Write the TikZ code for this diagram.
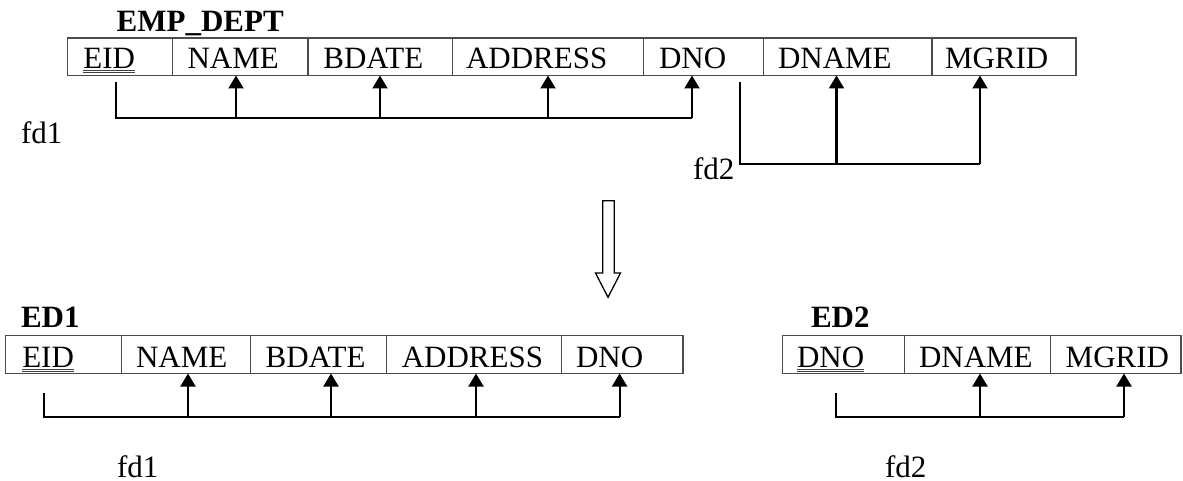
\documentclass[tikz,border=0pt]{standalone}
\usepackage{fontspec}
\setmainfont{Liberation Serif}
\usetikzlibrary{arrows.meta}
\begin{document}
\begin{tikzpicture}[x=1pt,y=-1pt,
  cell/.style={draw=black!70,line width=1.1pt,inner sep=0pt,outer sep=0pt,anchor=north west},
  txt/.style={inner sep=0pt,outer sep=0pt,anchor=base west,font=\fontsize{31}{36}\selectfont},
  ttl/.style={txt,font=\fontsize{31}{36}\selectfont\bfseries},
  bus/.style={line width=2.2pt,line cap=butt},
  arr/.style={line width=2.2pt,-{Triangle[width=15pt,length=13pt]}},
  dul/.style={draw=black!75,line width=0.9pt}]
\useasboundingbox (0,0) rectangle (1183,481);

% ---------- EMP_DEPT ----------
\node[ttl] (tEMP) at (116.7,31.7) {EMP\_DEPT};
\foreach \n/\a/\b in {c1/67.4/172.2,c2/172.2/308,c3/308/452.4,c4/452.4/643.5,c5/643.5/763.8,c6/763.8/932,c7/932/1076}{
  \pgfmathsetmacro\w{\b-\a}
  \node[cell,minimum width=\w pt,minimum height=37.5pt] (\n) at (\a,38) {};
}
\node[txt] (x1) at (83.4,68.5) {EID};
\node[txt] (x2) at (187.5,68.5) {NAME};
\node[txt] (x3) at (323.4,68.5) {BDATE};
\node[txt] (x4) at (466,68.5) {ADDRESS};
\node[txt] (x5) at (659,68.5) {DNO};
\node[txt] (x6) at (778,68.5) {DNAME};
\node[txt] (x7) at (945,68.5) {MGRID};
\draw[dul] ([yshift=-2pt]x1.base west) -- ([yshift=-2pt]x1.base east);
\draw[dul] ([yshift=-4.4pt]x1.base west) -- ([yshift=-4.4pt]x1.base east);

% fd1 (top)
\coordinate (p1s) at (116,82);
\coordinate (p1b) at (116,118);
\coordinate (p1n) at (236,118);
\coordinate (p1d) at (380,118);
\coordinate (p1a) at (548,118);
\coordinate (p1e) at (692,118);
\draw[bus] (p1s) -- (p1b) -- (p1e);
\draw[arr] (p1n) -- (p1n |- c2.south);
\draw[arr] (p1d) -- (p1d |- c3.south);
\draw[arr] (p1a) -- (p1a |- c4.south);
\draw[arr] (p1e) -- (p1e |- c5.south);
\node[txt] (l1) at (21,144) {fd1};

% fd2 (top)
\coordinate (p2s) at (739.6,82);
\coordinate (p2b) at (739.6,164);
\coordinate (p2n) at (836.5,164);
\coordinate (p2e) at (980,164);
\draw[bus] (p2s) -- (p2b) -- (p2e);
\draw[arr] (p2n) -- (p2n |- c6.south);
\draw[arr] (p2e) -- (p2e |- c7.south);
\node[txt] (l2) at (693,180) {fd2};

% ---------- hollow arrow ----------
\draw[line width=1.3pt,line join=miter] (602.7,200.7) -- (614.3,200.7) -- (614.3,273) -- (620.5,273) -- (608,297.3) -- (595.5,273) -- (602.7,273) -- cycle;

% ---------- ED1 ----------
\node[ttl] (tED1) at (21,327.5) {ED1};
\foreach \n/\a/\b in {e1/5.4/121.9,e2/121.9/250.9,e3/250.9/386.6,e4/386.6/561.2,e5/561.2/683}{
  \pgfmathsetmacro\w{\b-\a}
  \node[cell,minimum width=\w pt,minimum height=38pt] (\n) at (\a,335.5) {};
}
\node[txt] (y1) at (22.3,367) {EID};
\node[txt] (y2) at (136,367) {NAME};
\node[txt] (y3) at (265.6,367) {BDATE};
\node[txt] (y4) at (401.8,367) {ADDRESS};
\node[txt] (y5) at (576,367) {DNO};
\draw[dul] ([yshift=-2pt]y1.base west) -- ([yshift=-2pt]y1.base east);
\draw[dul] ([yshift=-4.4pt]y1.base west) -- ([yshift=-4.4pt]y1.base east);

\coordinate (q1s) at (43.8,393.3);
\coordinate (q1b) at (43.8,416.7);
\coordinate (q1n) at (188,416.7);
\coordinate (q1d) at (331,416.7);
\coordinate (q1a) at (476,416.7);
\coordinate (q1e) at (619.6,416.7);
\draw[bus] (q1s) -- (q1b) -- (q1e);
\draw[arr] (q1n) -- (q1n |- e2.south);
\draw[arr] (q1d) -- (q1d |- e3.south);
\draw[arr] (q1a) -- (q1a |- e4.south);
\draw[arr] (q1e) -- (q1e |- e5.south);
\node[txt,text depth=0pt] (l3) at (117,477) {fd1};

% ---------- ED2 ----------
\node[ttl] (tED2) at (811,327.5) {ED2};
\foreach \n/\a/\b in {g1/782.7/904.7,g2/904.7/1050.7,g3/1050.7/1181}{
  \pgfmathsetmacro\w{\b-\a}
  \node[cell,minimum width=\w pt,minimum height=38pt] (\n) at (\a,335.5) {};
}
\node[txt] (z1) at (797,367) {DNO};
\node[txt] (z2) at (919,367) {DNAME};
\node[txt] (z3) at (1065.7,367) {MGRID};
\draw[dul] ([yshift=-2pt]z1.base west) -- ([yshift=-2pt]z1.base east);
\draw[dul] ([yshift=-4.4pt]z1.base west) -- ([yshift=-4.4pt]z1.base east);

\coordinate (q2s) at (836,393.3);
\coordinate (q2b) at (836,416.7);
\coordinate (q2n) at (980,416.7);
\coordinate (q2e) at (1124,416.7);
\draw[bus] (q2s) -- (q2b) -- (q2e);
\draw[arr] (q2n) -- (q2n |- g2.south);
\draw[arr] (q2e) -- (q2e |- g3.south);
\node[txt,text depth=0pt] (l4) at (885,477) {fd2};
\end{tikzpicture}
\end{document}
